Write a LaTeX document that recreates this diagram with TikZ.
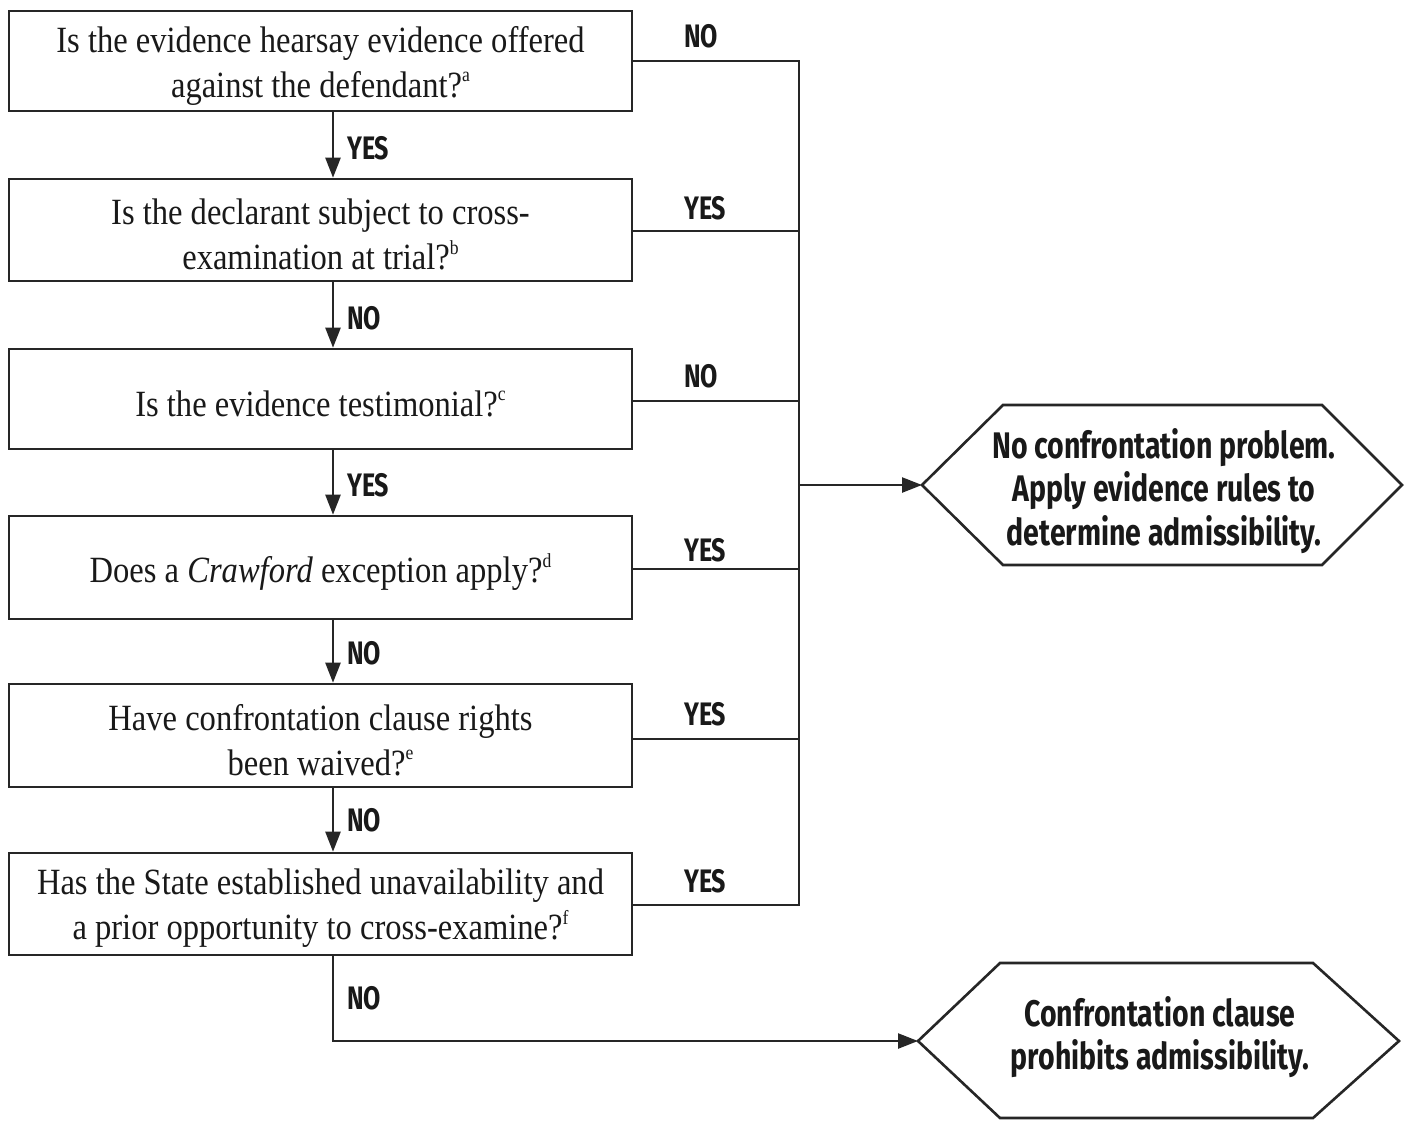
\documentclass[tikz,border=0pt]{standalone}
\usepackage{fontspec}
\setmainfont{Liberation Serif}[FakeStretch=0.88]
\newfontfamily\labfont{Fira Sans}[FakeStretch=0.77]
\usetikzlibrary{arrows.meta}
\newcommand\fnmark[1]{\raisebox{0.42em}{\fontsize{20}{20}\selectfont #1}}
\begin{document}
\begin{tikzpicture}[x=1pt,y=-1pt,
  qbox/.style={draw=black!85,line width=2.6pt,minimum width=623pt,inner sep=0pt},
  qtext/.style={align=center,font=\fontsize{37}{45}\selectfont,text=black!90,inner sep=0pt,yshift=-4.5pt},
  conn/.style={draw=black!85,line width=2.4pt},
  arr/.style={conn,-{Triangle[length=20pt,width=15pt]}},
  lab/.style={font=\labfont\bfseries\fontsize{32.5}{34}\selectfont,text=black!90,inner sep=0pt},
  hexa/.style={draw=black!85,line width=2.6pt,fill=white},
  htext/.style={font=\labfont\bfseries\fontsize{37}{43.5}\selectfont,text=black!90,align=center,inner sep=0pt}]
\useasboundingbox (0,0) rectangle (1404,1120);
\fill[white] (0,0) rectangle (1404,1120);
% question boxes
\node[qbox,minimum height=100pt] (b1) at (320.5,61) {};
\node[qbox,minimum height=102pt] (b2) at (320.5,230) {};
\node[qbox,minimum height=100pt] (b3) at (320.5,399) {};
\node[qbox,minimum height=103pt] (b4) at (320.5,567.5) {};
\node[qbox,minimum height=103pt] (b5) at (320.5,735.5) {};
\node[qbox,minimum height=102pt] (b6) at (320.5,904) {};
\node[qtext] (t1) at (b1.center) {Is the evidence hearsay evidence offered\\against the defendant?\fnmark{a}};
\node[qtext] (t2) at (b2.center) {Is the declarant subject to cross-\\examination at trial?\fnmark{b}};
\node[qtext] (t3) at (b3.center) {Is the evidence testimonial?\fnmark{c}};
\node[qtext] (t4) at (b4.center) {Does a \textit{Crawford} exception apply?\fnmark{d}};
\node[qtext] (t5) at (b5.center) {Have confrontation clause rights\\been waived?\fnmark{e}};
\node[qtext] (t6) at (b6.center) {Has the State established unavailability and\\a prior opportunity to cross-examine?\fnmark{f}};
% spine coordinates
\coordinate (s1) at (799,61);
\coordinate (s2) at (799,231);
\coordinate (s3) at (799,401);
\coordinate (s4) at (799,569);
\coordinate (s5) at (799,739);
\coordinate (s6) at (799,905);
\coordinate (sm) at (799,485);
% hexagons
\coordinate (h1w) at (922,485);
\draw[hexa] (h1w) -- (1003,405) -- (1322,405) -- (1402,485) -- (1322,565) -- (1003,565) -- cycle;
\node[htext] (h1) at (1164,491) {No confrontation problem.\\Apply evidence rules to\\determine admissibility.};
\coordinate (h2w) at (918,1041);
\draw[hexa] (h2w) -- (1000,963) -- (1313,963) -- (1399,1041) -- (1313,1118) -- (1000,1118) -- cycle;
\node[htext] (h2) at (1160,1037) {Confrontation clause\\prohibits admissibility.};
% right side connectors
\draw[conn] (b1.east |- s1) -- (s1) -- (s6) -- (b6.east |- s6);
\draw[conn] (b2.east |- s2) -- (s2);
\draw[conn] (b3.east |- s3) -- (s3);
\draw[conn] (b4.east |- s4) -- (s4);
\draw[conn] (b5.east |- s5) -- (s5);
\draw[arr] (sm) -- (h1w);
% right labels
\node[lab,anchor=south west] (l1) at (684,48) {NO};
\node[lab,anchor=south west] (l2) at (684,220) {YES};
\node[lab,anchor=south west] (l3) at (684,388) {NO};
\node[lab,anchor=south west] (l4) at (684,562) {YES};
\node[lab,anchor=south west] (l5) at (684,726) {YES};
\node[lab,anchor=south west] (l6) at (684,893) {YES};
% down arrows
\draw[arr] (b1.south -| 333,0) -- (b2.north -| 333,0);
\draw[arr] (b2.south -| 333,0) -- (b3.north -| 333,0);
\draw[arr] (b3.south -| 333,0) -- (b4.north -| 333,0);
\draw[arr] (b4.south -| 333,0) -- (b5.north -| 333,0);
\draw[arr] (b5.south -| 333,0) -- (b6.north -| 333,0);
\node[lab,anchor=south west] (m1) at (347,160) {YES};
\node[lab,anchor=south west] (m2) at (347,330) {NO};
\node[lab,anchor=south west] (m3) at (347,497) {YES};
\node[lab,anchor=south west] (m4) at (347,665) {NO};
\node[lab,anchor=south west] (m5) at (347,832) {NO};
% bottom NO path
\coordinate (c6) at (333,1041);
\draw[arr] (b6.south -| c6) -- (c6) -- (h2w);
\node[lab,anchor=south west] (m6) at (347,1010) {NO};
\end{tikzpicture}
\end{document}
